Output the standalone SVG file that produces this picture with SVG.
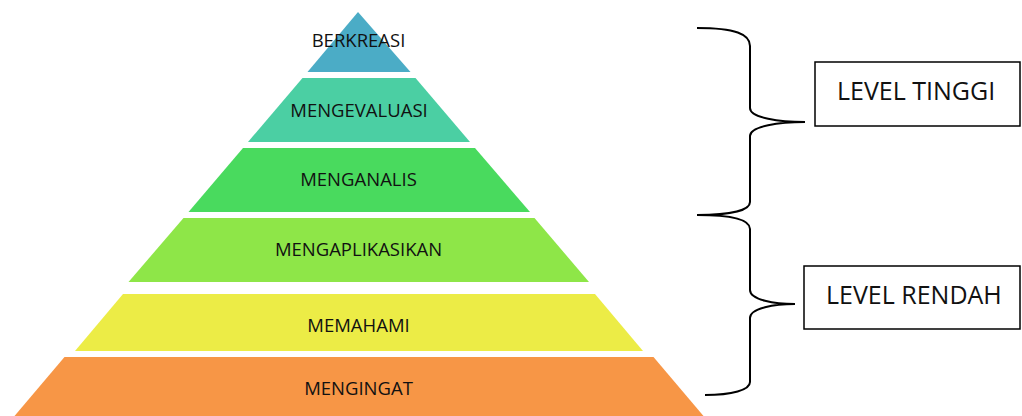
<svg xmlns="http://www.w3.org/2000/svg" width="1022" height="416" viewBox="0 0 1022 416">
<style>
.lbl{font-family:"Open Sans","Liberation Sans",sans-serif;font-size:18.5px;fill:#111;text-anchor:middle}
.big{font-family:"Open Sans","Liberation Sans",sans-serif;font-size:25px;fill:#111}
.box{fill:#fff;stroke:#000;stroke-width:1.5}
.brace{fill:none;stroke:#000;stroke-width:2}
</style>
<rect width="1022" height="416" fill="#fff"/>
<g id="berkreasi">
<polygon points="358,12 307.5,72 410.5,72" fill="#4BACC6"/>
<text class="lbl" x="358.5" y="47">BERKREASI</text>
</g>
<g id="mengevaluasi">
<polygon points="302.5,78 415.5,78 470,142 248,142" fill="#4BCFA3"/>
<text class="lbl" x="359" y="117">MENGEVALUASI</text>
</g>
<g id="menganalis">
<polygon points="243,148 475,148 530,212 188.5,212" fill="#49DA5E"/>
<text class="lbl" x="358.5" y="186">MENGANALIS</text>
</g>
<g id="mengaplikasikan">
<polygon points="183.5,218 534.5,218 589,282 128.5,282" fill="#8EE648"/>
<text class="lbl" x="358.5" y="256">MENGAPLIKASIKAN</text>
</g>
<g id="memahami">
<polygon points="123,294 595,294 643,351 75,351" fill="#ECEC46"/>
<text class="lbl" x="358.5" y="332">MEMAHAMI</text>
</g>
<g id="mengingat">
<polygon points="64.5,357 653.5,357 703.5,416 14.5,416" fill="#F79646"/>
<text class="lbl" x="358.5" y="395">MENGINGAT</text>
</g>
<g id="connectors">
<path class="brace" d="M697,28 C735,28 750,34 750,46 L750,108 C750,118 780,122 805,122 C780,122 750,126 750,136 L750,202 C750,210 732,215 697,215"/>
<path class="brace" d="M697,215 C735,215 750,220 750,229 L750,290 C750,300 775,304 795,304 C775,304 750,308 750,318 L750,382 C750,390 732,395 705,395"/>
</g>
<g id="level-tinggi">
<rect class="box" x="815" y="62" width="205" height="64"/>
<text class="big" x="837" y="100">LEVEL TINGGI</text>
</g>
<g id="level-rendah">
<rect class="box" x="804" y="266" width="216" height="63"/>
<text class="big" x="826" y="304">LEVEL RENDAH</text>
</g>
</svg>
